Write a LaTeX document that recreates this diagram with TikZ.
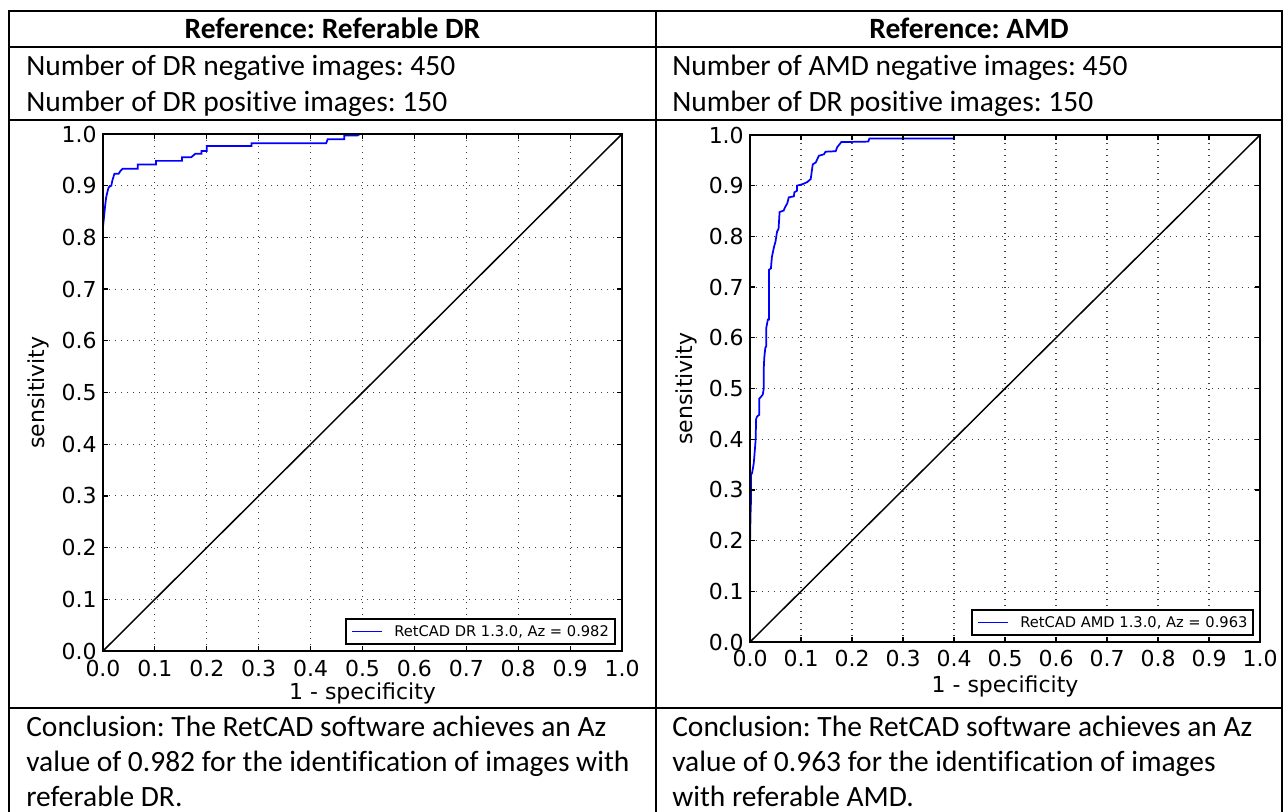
\documentclass[tikz,border=0pt]{standalone}
\usepackage{fontspec}
\setmainfont{Carlito}[Ligatures=NoCommon]
\newfontfamily\plotfont{DejaVu Sans}
\frenchspacing
\tikzset{
  tablerule/.style={line width=1.5pt, line cap=rect},
  celltext/.style={font=\fontsize{22.1pt}{26.5pt}\selectfont, inner sep=0pt, anchor=base west},
  headtext/.style={font=\fontsize{22.1pt}{26.5pt}\selectfont\bfseries, inner sep=0pt, anchor=base},
  axframe/.style={line width=1.1pt},
  tickmark/.style={line width=0.9pt},
  gridline/.style={black!75, line width=0.8pt, dash pattern=on 0.9pt off 3.6pt},
  ticklab/.style={font=\plotfont\fontsize{16.5pt}{18pt}\selectfont, inner sep=0pt},
  roc/.style={blue, line width=1.3pt, line join=miter},
  chance/.style={black, line width=1.1pt},
  legbox/.style={draw=black, fill=white, line width=1pt},
  legline/.style={blue, line width=1.3pt},
  legtext/.style={font=\plotfont\fontsize{11pt}{13pt}\selectfont, inner sep=0pt, anchor=west},
}
\begin{document}
\begin{tikzpicture}[x=0.75pt,y=-0.75pt]
\useasboundingbox (0,0) rectangle (1287,812);
\fill[white] (0,0) rectangle (1287,812);

% ---------------- table ----------------
\draw[tablerule] (9,11) -- (1282,11);
\draw[tablerule] (9,47) -- (1282,47);
\draw[tablerule] (9,120) -- (1282,120);
\draw[tablerule] (9,708) -- (1282,708);
\draw[tablerule] (9,11) -- (9,816);
\draw[tablerule] (656,11) -- (656,816);
\draw[tablerule] (1282,11) -- (1282,816);

\node[headtext] (h1) at (332.5,39) {Reference: Referable DR};
\node[headtext] (h2) at (969,39) {Reference: AMD};

\node[celltext] (n1) at (26,75.5) {Number of DR negative images: 450};
\node[celltext] (p1) at (26,111.5) {Number of DR positive images: 150};
\node[celltext] (n2) at (672,75.5) {Number of AMD negative images: 450};
\node[celltext] (p2) at (672,111.5) {Number of DR positive images: 150};

\node[celltext] (c1a) at (26,736) {Conclusion: The RetCAD software achieves an Az};
\node[celltext] (c1b) at (26,771) {value of 0.982 for the identification of images with};
\node[celltext] (c1c) at (26,806) {referable DR.};
\node[celltext] (c2a) at (672,736) {Conclusion: The RetCAD software achieves an Az};
\node[celltext] (c2b) at (672,771) {value of 0.963 for the identification of images};
\node[celltext] (c2c) at (672,806) {with referable AMD.};

% ---------------- left plot ----------------
\begin{scope}[shift={(103,651)}, x=389.25pt, y=387.75pt]
  \foreach \i in {1,...,9} {
    \draw[gridline] (\i/10,0) -- (\i/10,1);
    \draw[gridline] (0,\i/10) -- (1,\i/10);
  }
  \draw[chance] (0,0) -- (1,1);
  \draw[roc] (0,0.82) -- (0.002,0.84) -- (0.004,0.86) -- (0.006,0.877) -- (0.009,0.89)
    -- (0.011,0.897) -- (0.016,0.9) -- (0.018,0.91) -- (0.022,0.923) -- (0.03,0.923)
    -- (0.034,0.929) -- (0.038,0.933) -- (0.067,0.933) -- (0.067,0.941) -- (0.102,0.941)
    -- (0.102,0.948) -- (0.152,0.948) -- (0.152,0.955) -- (0.17,0.955) -- (0.178,0.962)
    -- (0.19,0.962) -- (0.19,0.967) -- (0.2,0.967) -- (0.2,0.977) -- (0.286,0.977)
    -- (0.286,0.982) -- (0.43,0.982) -- (0.433,0.99) -- (0.465,0.99) -- (0.465,0.997)
    -- (0.49,0.997) -- (0.495,1.0);
  \foreach \i in {0,...,10} {
    \draw[tickmark] (\i/10,0) -- ++(0pt,3.75pt);
    \draw[tickmark] (\i/10,1) -- ++(0pt,-3.75pt);
    \draw[tickmark] (0,\i/10) -- ++(3.75pt,0pt);
    \draw[tickmark] (1,\i/10) -- ++(-3.75pt,0pt);
  }
  \draw[axframe] (0,0) rectangle (1,1);
  \foreach \i in {0,...,9} {
    \node[ticklab, anchor=north] (ax\i) at ([yshift=-6.5pt]\i/10,0) {0.\i};
    \node[ticklab, anchor=east] (ay\i) at ([xshift=-4.5pt]0,\i/10) {0.\i};
  }
  \node[ticklab, anchor=north] (ax10) at ([yshift=-6.5pt]1,0) {1.0};
  \node[ticklab, anchor=east] (ay10) at ([xshift=-4.5pt]0,1) {1.0};
  \node[ticklab, rotate=90] (asens) at ([xshift=-48.75pt]0,0.5) {sensitivity};
  \node[ticklab] (aspec) at ([yshift=-31.5pt]0.5,0) {1 - specificity};
  \draw[legbox] ([xshift=-207pt,yshift=24pt]1,0) rectangle ([xshift=-5.25pt,yshift=5.25pt]1,0);
  \draw[legline] ([xshift=-202.5pt,yshift=14.6pt]1,0) -- ++(22.5pt,0pt);
  \node[legtext] (alg) at ([xshift=-171pt,yshift=14.6pt]1,0) {RetCAD DR 1.3.0, Az = 0.982};
\end{scope}

% ---------------- right plot ----------------
\begin{scope}[shift={(750,642)}, x=382.5pt, y=380.25pt]
  \foreach \i in {1,...,9} {
    \draw[gridline] (\i/10,0) -- (\i/10,1);
    \draw[gridline] (0,\i/10) -- (1,\i/10);
  }
  \draw[chance] (0,0) -- (1,1);
  \draw[roc] (0,0.19) -- (0.001,0.25) -- (0.002,0.28) -- (0.002,0.33) -- (0.004,0.333)
    -- (0.007,0.35) -- (0.008,0.36) -- (0.011,0.398) -- (0.012,0.44) -- (0.014,0.445)
    -- (0.018,0.448) -- (0.018,0.48) -- (0.021,0.483) -- (0.025,0.488) -- (0.027,0.5)
    -- (0.027,0.54) -- (0.028,0.561) -- (0.03,0.58) -- (0.032,0.584) -- (0.032,0.62)
    -- (0.035,0.636) -- (0.037,0.636) -- (0.037,0.734) -- (0.041,0.737) -- (0.043,0.76)
    -- (0.047,0.779) -- (0.05,0.79) -- (0.053,0.809) -- (0.056,0.815) -- (0.058,0.848)
    -- (0.066,0.851) -- (0.069,0.858) -- (0.073,0.865) -- (0.076,0.877) -- (0.086,0.879)
    -- (0.087,0.887) -- (0.092,0.89) -- (0.092,0.9) -- (0.103,0.903) -- (0.112,0.907)
    -- (0.119,0.913) -- (0.123,0.942) -- (0.129,0.946) -- (0.135,0.959) -- (0.145,0.962)
    -- (0.148,0.967) -- (0.168,0.968) -- (0.171,0.976) -- (0.179,0.986) -- (0.232,0.987)
    -- (0.234,0.993) -- (0.4,0.993);
  \foreach \i in {0,...,10} {
    \draw[tickmark] (\i/10,0) -- ++(0pt,3.75pt);
    \draw[tickmark] (\i/10,1) -- ++(0pt,-3.75pt);
    \draw[tickmark] (0,\i/10) -- ++(3.75pt,0pt);
    \draw[tickmark] (1,\i/10) -- ++(-3.75pt,0pt);
  }
  \draw[axframe] (0,0) rectangle (1,1);
  \foreach \i in {0,...,9} {
    \node[ticklab, anchor=north] (bx\i) at ([yshift=-6pt]\i/10,0) {0.\i};
    \node[ticklab, anchor=east] (by\i) at ([xshift=-4.5pt]0,\i/10) {0.\i};
  }
  \node[ticklab, anchor=north] (bx10) at ([yshift=-6pt]1,0) {1.0};
  \node[ticklab, anchor=east] (by10) at ([xshift=-4.5pt]0,1) {1.0};
  \node[ticklab, rotate=90] (bsens) at ([xshift=-47.5pt]0,0.5) {sensitivity};
  \node[ticklab] (bspec) at ([yshift=-33.5pt]0.5,0) {1 - specificity};
  \draw[legbox] ([xshift=-216pt,yshift=24pt]1,0) rectangle ([xshift=-5.25pt,yshift=5.25pt]1,0);
  \draw[legline] ([xshift=-211.5pt,yshift=14.6pt]1,0) -- ++(22.5pt,0pt);
  \node[legtext] (blg) at ([xshift=-180pt,yshift=14.6pt]1,0) {RetCAD AMD 1.3.0, Az = 0.963};
\end{scope}
\end{tikzpicture}
\end{document}
